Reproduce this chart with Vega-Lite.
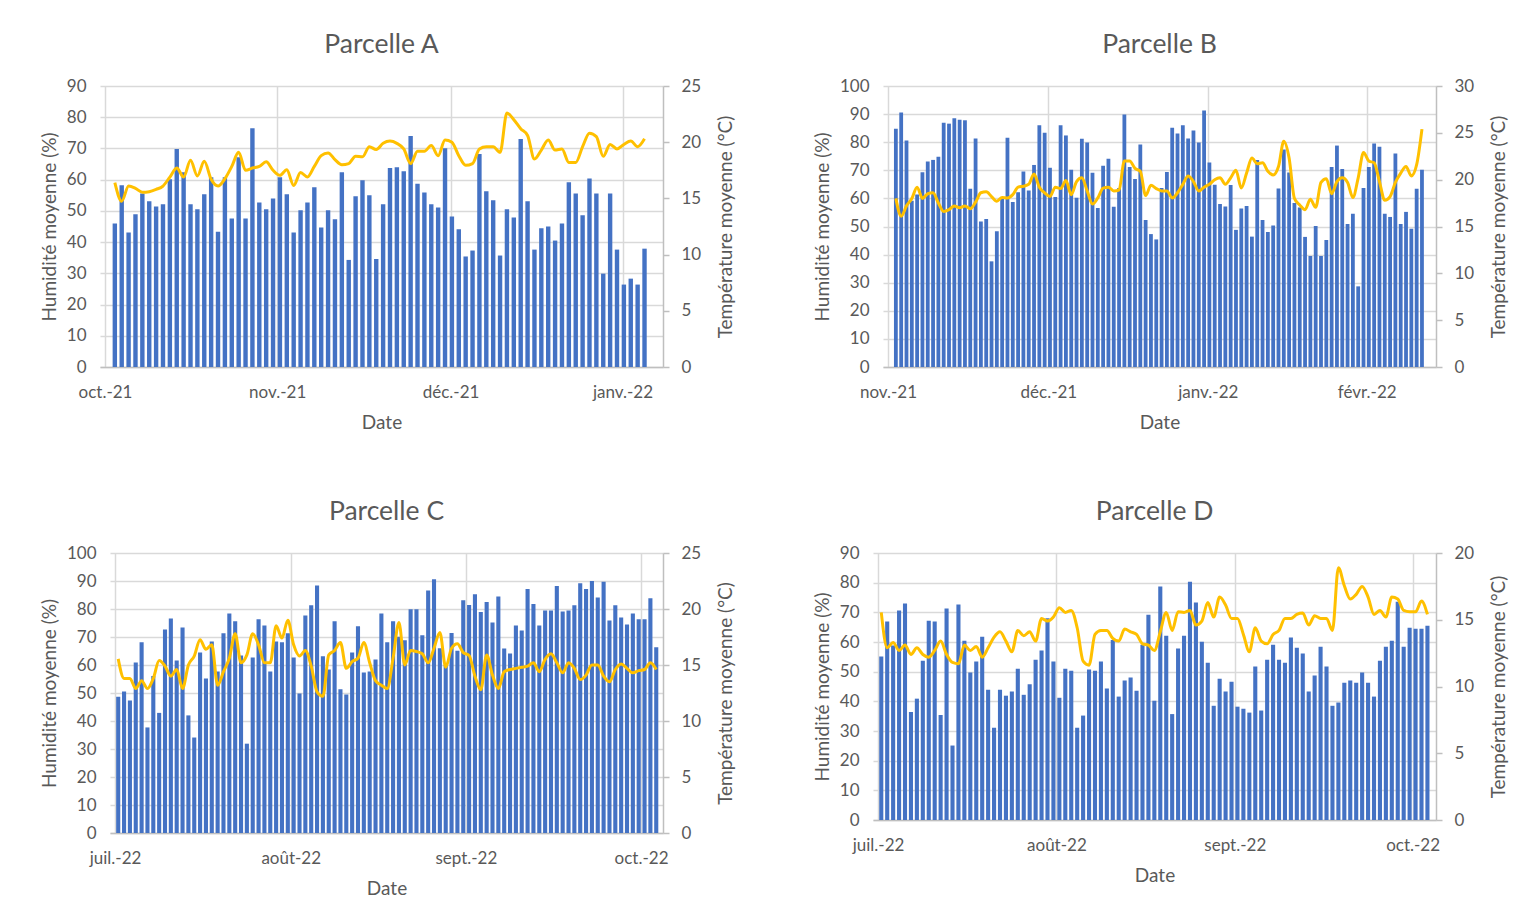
{
"$schema":"https://vega.github.io/schema/vega-lite/v6.json",
"background":"white",
"padding":{"left":39,"top":31,"right":5,"bottom":5},
"datasets":{
"A":[{"j":1,"h":46.0,"t":16.4},{"j":2,"h":58.2,"t":14.75},{"j":3,"h":43.1,"t":16.1},{"j":4,"h":48.9,"t":15.9},{"j":5,"h":55.6,"t":15.55},{"j":6,"h":53.1,"t":15.6},{"j":7,"h":51.4,"t":15.8},{"j":8,"h":52.1,"t":16.1},{"j":9,"h":60.1,"t":16.9},{"j":10,"h":69.8,"t":17.7},{"j":11,"h":62.4,"t":16.9},{"j":12,"h":52.1,"t":18.4},{"j":13,"h":50.5,"t":17.0},{"j":14,"h":55.3,"t":18.3},{"j":15,"h":60.8,"t":16.7},{"j":16,"h":43.3,"t":16.1},{"j":17,"h":60.8,"t":16.75},{"j":18,"h":47.6,"t":17.85},{"j":19,"h":67.2,"t":19.1},{"j":20,"h":47.6,"t":17.5},{"j":21,"h":76.5,"t":17.7},{"j":22,"h":52.7,"t":17.85},{"j":23,"h":50.5,"t":18.25},{"j":24,"h":54.0,"t":17.5},{"j":25,"h":60.8,"t":17.05},{"j":26,"h":55.3,"t":17.55},{"j":27,"h":43.1,"t":16.15},{"j":28,"h":50.2,"t":17.3},{"j":29,"h":52.7,"t":16.9},{"j":30,"h":57.6,"t":17.85},{"j":31,"h":44.7,"t":18.8},{"j":32,"h":50.2,"t":19.05},{"j":33,"h":47.3,"t":18.45},{"j":34,"h":62.4,"t":18.0},{"j":35,"h":34.3,"t":18.1},{"j":36,"h":54.7,"t":18.75},{"j":37,"h":59.8,"t":18.7},{"j":38,"h":55.0,"t":19.6},{"j":39,"h":34.6,"t":19.35},{"j":40,"h":52.1,"t":19.9},{"j":41,"h":63.7,"t":20.1},{"j":42,"h":64.0,"t":19.9},{"j":43,"h":62.7,"t":19.4},{"j":44,"h":74.0,"t":18.1},{"j":45,"h":58.7,"t":19.2},{"j":46,"h":55.9,"t":19.2},{"j":47,"h":52.1,"t":19.7},{"j":48,"h":51.1,"t":18.8},{"j":49,"h":70.1,"t":20.2},{"j":50,"h":48.2,"t":20.0},{"j":51,"h":44.1,"t":18.8},{"j":52,"h":35.4,"t":17.95},{"j":53,"h":37.3,"t":18.1},{"j":54,"h":68.2,"t":19.4},{"j":55,"h":56.3,"t":19.6},{"j":56,"h":53.4,"t":19.6},{"j":57,"h":35.7,"t":19.1},{"j":58,"h":50.5,"t":22.6},{"j":59,"h":47.9,"t":22.0},{"j":60,"h":73.0,"t":21.2},{"j":61,"h":53.1,"t":20.6},{"j":62,"h":37.6,"t":18.5},{"j":63,"h":44.4,"t":19.3},{"j":64,"h":45.0,"t":20.2},{"j":65,"h":40.5,"t":19.3},{"j":66,"h":46.0,"t":19.4},{"j":67,"h":59.2,"t":18.2},{"j":68,"h":55.6,"t":18.2},{"j":69,"h":48.6,"t":19.6},{"j":70,"h":60.4,"t":20.8},{"j":71,"h":55.6,"t":20.5},{"j":72,"h":29.9,"t":18.75},{"j":73,"h":55.6,"t":19.8},{"j":74,"h":37.6,"t":19.4},{"j":75,"h":26.4,"t":19.8},{"j":76,"h":28.3,"t":20.1},{"j":77,"h":26.4,"t":19.6},{"j":78,"h":37.9,"t":20.3}],
"B":[{"j":1,"h":84.8,"t":18.0},{"j":2,"h":90.6,"t":16.1},{"j":3,"h":80.6,"t":17.2},{"j":4,"h":59.2,"t":18.0},{"j":5,"h":61.4,"t":19.2},{"j":6,"h":69.3,"t":18.0},{"j":7,"h":73.1,"t":18.5},{"j":8,"h":73.7,"t":18.6},{"j":9,"h":74.8,"t":17.5},{"j":10,"h":86.9,"t":16.6},{"j":11,"h":86.6,"t":16.8},{"j":12,"h":88.5,"t":17.2},{"j":13,"h":88.0,"t":17.0},{"j":14,"h":87.8,"t":17.2},{"j":15,"h":63.4,"t":16.9},{"j":16,"h":81.3,"t":17.6},{"j":17,"h":51.8,"t":18.6},{"j":18,"h":52.7,"t":18.7},{"j":19,"h":37.6,"t":18.2},{"j":20,"h":48.3,"t":17.7},{"j":21,"h":59.9,"t":18.1},{"j":22,"h":81.6,"t":18.05},{"j":23,"h":58.7,"t":18.4},{"j":24,"h":62.2,"t":19.2},{"j":25,"h":69.6,"t":19.3},{"j":26,"h":62.8,"t":19.5},{"j":27,"h":71.9,"t":20.6},{"j":28,"h":86.0,"t":19.2},{"j":29,"h":83.4,"t":18.6},{"j":30,"h":70.9,"t":18.2},{"j":31,"h":60.5,"t":19.2},{"j":32,"h":86.0,"t":19.05},{"j":33,"h":82.4,"t":19.9},{"j":34,"h":70.2,"t":18.4},{"j":35,"h":60.2,"t":19.8},{"j":36,"h":81.2,"t":20.2},{"j":37,"h":79.9,"t":18.8},{"j":38,"h":69.1,"t":17.4},{"j":39,"h":56.6,"t":18.05},{"j":40,"h":71.6,"t":19.1},{"j":41,"h":74.1,"t":19.2},{"j":42,"h":57.0,"t":18.8},{"j":43,"h":63.7,"t":18.9},{"j":44,"h":89.9,"t":22.0},{"j":45,"h":71.2,"t":22.0},{"j":46,"h":66.9,"t":21.2},{"j":47,"h":79.2,"t":20.9},{"j":48,"h":52.3,"t":18.3},{"j":49,"h":47.3,"t":19.4},{"j":50,"h":45.4,"t":19.05},{"j":51,"h":63.7,"t":18.8},{"j":52,"h":69.4,"t":18.8},{"j":53,"h":85.1,"t":18.05},{"j":54,"h":83.1,"t":18.6},{"j":55,"h":86.0,"t":19.5},{"j":56,"h":81.3,"t":20.4},{"j":57,"h":84.2,"t":19.8},{"j":58,"h":79.9,"t":18.8},{"j":59,"h":91.3,"t":19.2},{"j":60,"h":72.8,"t":19.5},{"j":61,"h":64.9,"t":20.0},{"j":62,"h":58.0,"t":20.2},{"j":63,"h":57.1,"t":19.5},{"j":64,"h":64.8,"t":20.2},{"j":65,"h":48.8,"t":21.0},{"j":66,"h":56.4,"t":19.1},{"j":67,"h":57.3,"t":20.7},{"j":68,"h":46.4,"t":22.3},{"j":69,"h":73.7,"t":21.7},{"j":70,"h":52.3,"t":21.8},{"j":71,"h":48.0,"t":20.9},{"j":72,"h":50.4,"t":20.5},{"j":73,"h":63.5,"t":21.4},{"j":74,"h":77.4,"t":24.1},{"j":75,"h":69.2,"t":22.3},{"j":76,"h":58.4,"t":18.0},{"j":77,"h":56.8,"t":17.3},{"j":78,"h":46.3,"t":16.8},{"j":79,"h":39.5,"t":17.9},{"j":80,"h":50.2,"t":17.05},{"j":81,"h":39.5,"t":19.7},{"j":82,"h":45.2,"t":20.1},{"j":83,"h":71.2,"t":18.5},{"j":84,"h":78.8,"t":19.8},{"j":85,"h":70.5,"t":20.2},{"j":86,"h":50.9,"t":19.7},{"j":87,"h":54.5,"t":18.1},{"j":88,"h":28.7,"t":20.2},{"j":89,"h":63.7,"t":22.9},{"j":90,"h":71.2,"t":22.0},{"j":91,"h":79.5,"t":21.8},{"j":92,"h":78.4,"t":19.8},{"j":93,"h":54.5,"t":17.8},{"j":94,"h":53.4,"t":18.2},{"j":95,"h":76.0,"t":19.7},{"j":96,"h":50.9,"t":20.7},{"j":97,"h":55.2,"t":21.4},{"j":98,"h":49.2,"t":20.4},{"j":99,"h":63.4,"t":21.6},{"j":100,"h":70.2,"t":25.4}],
"C":[{"j":1,"h":48.7,"t":15.55},{"j":2,"h":50.5,"t":13.8},{"j":3,"h":47.3,"t":13.8},{"j":4,"h":60.9,"t":12.9},{"j":5,"h":68.1,"t":13.6},{"j":6,"h":37.7,"t":12.9},{"j":7,"h":56.1,"t":13.8},{"j":8,"h":42.9,"t":15.4},{"j":9,"h":72.7,"t":14.9},{"j":10,"h":76.6,"t":14.0},{"j":11,"h":61.6,"t":14.6},{"j":12,"h":73.4,"t":12.9},{"j":13,"h":42.0,"t":15.0},{"j":14,"h":34.1,"t":15.8},{"j":15,"h":64.5,"t":17.25},{"j":16,"h":55.2,"t":16.4},{"j":17,"h":68.4,"t":16.8},{"j":18,"h":57.7,"t":13.2},{"j":19,"h":71.3,"t":14.4},{"j":20,"h":78.4,"t":15.6},{"j":21,"h":75.6,"t":17.8},{"j":22,"h":63.4,"t":15.2},{"j":23,"h":31.9,"t":15.9},{"j":24,"h":62.7,"t":17.8},{"j":25,"h":76.3,"t":16.8},{"j":26,"h":74.1,"t":15.2},{"j":27,"h":57.7,"t":15.2},{"j":28,"h":68.4,"t":18.5},{"j":29,"h":68.1,"t":17.4},{"j":30,"h":71.3,"t":19.0},{"j":31,"h":62.7,"t":16.8},{"j":32,"h":49.8,"t":15.8},{"j":33,"h":77.7,"t":16.3},{"j":34,"h":81.3,"t":14.9},{"j":35,"h":88.4,"t":12.6},{"j":36,"h":63.1,"t":12.2},{"j":37,"h":58.4,"t":15.9},{"j":38,"h":75.6,"t":16.3},{"j":39,"h":51.3,"t":17.0},{"j":40,"h":49.5,"t":14.7},{"j":41,"h":64.5,"t":15.3},{"j":42,"h":73.8,"t":15.6},{"j":43,"h":57.3,"t":17.0},{"j":44,"h":57.7,"t":15.2},{"j":45,"h":62.0,"t":13.6},{"j":46,"h":78.4,"t":13.2},{"j":47,"h":68.1,"t":12.9},{"j":48,"h":75.6,"t":15.6},{"j":49,"h":70.1,"t":18.8},{"j":50,"h":68.8,"t":15.0},{"j":51,"h":79.9,"t":16.3},{"j":52,"h":79.9,"t":16.2},{"j":53,"h":70.6,"t":16.0},{"j":54,"h":86.6,"t":15.2},{"j":55,"h":90.6,"t":16.5},{"j":56,"h":66.0,"t":17.9},{"j":57,"h":60.0,"t":14.8},{"j":58,"h":71.4,"t":16.5},{"j":59,"h":65.1,"t":16.9},{"j":60,"h":83.1,"t":16.1},{"j":61,"h":81.4,"t":15.85},{"j":62,"h":85.3,"t":14.0},{"j":63,"h":78.9,"t":12.8},{"j":64,"h":82.5,"t":15.9},{"j":65,"h":75.2,"t":14.1},{"j":66,"h":84.5,"t":12.9},{"j":67,"h":65.9,"t":14.4},{"j":68,"h":64.1,"t":14.6},{"j":69,"h":74.1,"t":14.7},{"j":70,"h":72.3,"t":14.8},{"j":71,"h":87.1,"t":14.9},{"j":72,"h":81.8,"t":15.2},{"j":73,"h":74.1,"t":14.4},{"j":74,"h":79.5,"t":15.5},{"j":75,"h":79.5,"t":16.0},{"j":76,"h":88.2,"t":15.2},{"j":77,"h":79.1,"t":14.3},{"j":78,"h":79.5,"t":15.2},{"j":79,"h":81.3,"t":14.7},{"j":80,"h":89.2,"t":13.7},{"j":81,"h":87.1,"t":14.1},{"j":82,"h":90.0,"t":15.0},{"j":83,"h":84.1,"t":15.0},{"j":84,"h":89.7,"t":14.0},{"j":85,"h":75.9,"t":13.5},{"j":86,"h":81.3,"t":14.6},{"j":87,"h":77.0,"t":15.1},{"j":88,"h":74.5,"t":14.7},{"j":89,"h":78.4,"t":14.3},{"j":90,"h":76.3,"t":14.5},{"j":91,"h":76.3,"t":14.6},{"j":92,"h":83.8,"t":15.2},{"j":93,"h":66.3,"t":14.6}],
"D":[{"j":1,"h":55.1,"t":15.55},{"j":2,"h":66.9,"t":12.9},{"j":3,"h":58.8,"t":13.3},{"j":4,"h":70.6,"t":12.7},{"j":5,"h":73.0,"t":13.1},{"j":6,"h":36.4,"t":12.4},{"j":7,"h":40.9,"t":12.9},{"j":8,"h":53.7,"t":12.4},{"j":9,"h":67.2,"t":12.2},{"j":10,"h":66.9,"t":12.7},{"j":11,"h":35.4,"t":13.4},{"j":12,"h":71.3,"t":12.4},{"j":13,"h":25.1,"t":11.8},{"j":14,"h":72.6,"t":11.7},{"j":15,"h":60.4,"t":13.1},{"j":16,"h":49.7,"t":12.7},{"j":17,"h":53.4,"t":13.0},{"j":18,"h":61.8,"t":12.2},{"j":19,"h":43.9,"t":12.9},{"j":20,"h":31.1,"t":13.7},{"j":21,"h":43.9,"t":14.1},{"j":22,"h":41.9,"t":13.4},{"j":23,"h":43.3,"t":12.6},{"j":24,"h":51.0,"t":14.2},{"j":25,"h":42.2,"t":13.8},{"j":26,"h":45.8,"t":14.1},{"j":27,"h":54.0,"t":13.4},{"j":28,"h":57.1,"t":15.1},{"j":29,"h":68.0,"t":14.9},{"j":30,"h":53.4,"t":15.2},{"j":31,"h":41.2,"t":15.9},{"j":32,"h":51.0,"t":15.55},{"j":33,"h":50.3,"t":15.7},{"j":34,"h":31.1,"t":14.4},{"j":35,"h":35.2,"t":11.9},{"j":36,"h":50.7,"t":11.6},{"j":37,"h":50.3,"t":13.9},{"j":38,"h":53.4,"t":14.2},{"j":39,"h":44.3,"t":14.2},{"j":40,"h":60.7,"t":13.6},{"j":41,"h":41.6,"t":13.4},{"j":42,"h":47.0,"t":14.3},{"j":43,"h":48.0,"t":14.1},{"j":44,"h":43.6,"t":13.9},{"j":45,"h":59.1,"t":13.2},{"j":46,"h":69.2,"t":13.1},{"j":47,"h":40.2,"t":12.7},{"j":48,"h":78.7,"t":14.1},{"j":49,"h":62.1,"t":15.55},{"j":50,"h":35.7,"t":14.2},{"j":51,"h":57.8,"t":15.6},{"j":52,"h":62.1,"t":15.55},{"j":53,"h":80.3,"t":15.7},{"j":54,"h":73.3,"t":14.6},{"j":55,"h":60.1,"t":14.9},{"j":56,"h":53.0,"t":16.3},{"j":57,"h":38.5,"t":15.2},{"j":58,"h":47.6,"t":16.7},{"j":59,"h":43.3,"t":16.1},{"j":60,"h":46.6,"t":15.1},{"j":61,"h":38.2,"t":15.1},{"j":62,"h":37.5,"t":13.9},{"j":63,"h":36.2,"t":12.6},{"j":64,"h":51.7,"t":14.4},{"j":65,"h":36.9,"t":13.4},{"j":66,"h":54.0,"t":13.2},{"j":67,"h":59.1,"t":13.9},{"j":68,"h":54.0,"t":14.2},{"j":69,"h":53.0,"t":15.1},{"j":70,"h":61.5,"t":15.1},{"j":71,"h":58.1,"t":15.4},{"j":72,"h":56.1,"t":15.5},{"j":73,"h":43.3,"t":14.6},{"j":74,"h":48.7,"t":15.3},{"j":75,"h":58.4,"t":15.1},{"j":76,"h":51.7,"t":15.1},{"j":77,"h":38.5,"t":14.2},{"j":78,"h":39.6,"t":18.9},{"j":79,"h":46.3,"t":17.55},{"j":80,"h":47.0,"t":16.55},{"j":81,"h":46.3,"t":16.9},{"j":82,"h":49.7,"t":17.5},{"j":83,"h":46.3,"t":16.7},{"j":84,"h":41.6,"t":15.4},{"j":85,"h":53.7,"t":15.7},{"j":86,"h":58.4,"t":15.2},{"j":87,"h":60.4,"t":16.7},{"j":88,"h":73.6,"t":16.55},{"j":89,"h":58.4,"t":15.7},{"j":90,"h":64.8,"t":15.6},{"j":91,"h":64.5,"t":15.6},{"j":92,"h":64.5,"t":16.4},{"j":93,"h":65.5,"t":15.4}]
},
"spacing":66,
"vconcat":[
{"spacing":77,"hconcat":[
{"spacing":0,"hconcat":[
{"width":1,"height":1,"data":{"values":[]},"mark":{"type":"point","opacity":0}},
{"width":563,"height":281,"title":"Parcelle A","data":{"name":"A"},
 "encoding":{"x":{"field":"j","type":"quantitative","scale":{"domain":[-0.43,79.96],"nice":false,"zero":false},"axis":{"title":"Date","values":[-0.43,24.6,49.8,74.8],"labelExpr":"datum.value < 10 ? 'oct.-21' : datum.value < 35 ? 'nov.-21' : datum.value < 60 ? 'déc.-21' : 'janv.-22'","grid":true,"ticks":false,"labelFlush":false,"labelOverlap":false,"labelPadding":17,"titlePadding":13}}},
 "layer":[
  {"mark":{"type":"bar","orient":"vertical","size":4.4,"color":"#4472C4"},"encoding":{"y":{"field":"h","type":"quantitative","scale":{"domain":[0,90],"nice":false},"axis":{"title":"Humidité moyenne (%)","values":[0,10,20,30,40,50,60,70,80,90],"domain":false,"ticks":false,"grid":true,"labelPadding":14,"titlePadding":7}}}},
  {"mark":{"type":"line","color":"#FFC000","strokeWidth":3,"interpolate":"monotone"},"encoding":{"y":{"field":"t","type":"quantitative","scale":{"domain":[0,25],"nice":false},"axis":{"orient":"right","title":"Température moyenne (°C)","titleAngle":270,"titleBaseline":"top","values":[0,5,10,15,20,25],"grid":false,"domain":true,"ticks":true,"tickSize":6,"labelPadding":12,"titlePadding":16}}}}
 ],
 "resolve":{"scale":{"y":"independent"}}}
]},
{"width":553,"height":281,"title":"Parcelle B","data":{"name":"B"},
 "encoding":{"x":{"field":"j","type":"quantitative","scale":{"domain":[-0.48,101.7],"nice":false,"zero":false},"axis":{"title":"Date","values":[-0.48,29.7,59.7,89.6],"labelExpr":"datum.value < 10 ? 'nov.-21' : datum.value < 40 ? 'déc.-21' : datum.value < 70 ? 'janv.-22' : 'févr.-22'","grid":true,"ticks":false,"labelFlush":false,"labelOverlap":false,"labelPadding":17,"titlePadding":13}}},
 "layer":[
  {"mark":{"type":"bar","orient":"vertical","size":3.8,"color":"#4472C4"},"encoding":{"y":{"field":"h","type":"quantitative","scale":{"domain":[0,100],"nice":false},"axis":{"title":"Humidité moyenne (%)","values":[0,10,20,30,40,50,60,70,80,90,100],"domain":false,"ticks":false,"grid":true,"labelPadding":14,"titlePadding":7}}}},
  {"mark":{"type":"line","color":"#FFC000","strokeWidth":3,"interpolate":"monotone"},"encoding":{"y":{"field":"t","type":"quantitative","scale":{"domain":[0,30],"nice":false},"axis":{"orient":"right","title":"Température moyenne (°C)","titleAngle":270,"titleBaseline":"top","values":[0,5,10,15,20,25,30],"grid":false,"domain":true,"ticks":true,"tickSize":6,"labelPadding":12,"titlePadding":16}}}}
 ],
 "resolve":{"scale":{"y":"independent"}}}
]},
{"spacing":77,"hconcat":[
{"spacing":0,"hconcat":[
{"width":1,"height":1,"data":{"values":[]},"mark":{"type":"point","opacity":0}},
{"width":553,"height":280,"title":"Parcelle C","data":{"name":"C"},
 "encoding":{"x":{"field":"j","type":"quantitative","scale":{"domain":[0.45,93.3],"nice":false,"zero":false},"axis":{"title":"Date","values":[0.45,30.5,60.45,90.4],"labelExpr":"datum.value < 10 ? 'juil.-22' : datum.value < 40 ? 'août-22' : datum.value < 70 ? 'sept.-22' : 'oct.-22'","grid":true,"ticks":false,"labelFlush":false,"labelOverlap":false,"labelPadding":17,"titlePadding":13}}},
 "layer":[
  {"mark":{"type":"bar","orient":"vertical","size":4.1,"color":"#4472C4"},"encoding":{"y":{"field":"h","type":"quantitative","scale":{"domain":[0,100],"nice":false},"axis":{"title":"Humidité moyenne (%)","values":[0,10,20,30,40,50,60,70,80,90,100],"domain":false,"ticks":false,"grid":true,"labelPadding":14,"titlePadding":7}}}},
  {"mark":{"type":"line","color":"#FFC000","strokeWidth":3,"interpolate":"monotone"},"encoding":{"y":{"field":"t","type":"quantitative","scale":{"domain":[0,25],"nice":false},"axis":{"orient":"right","title":"Température moyenne (°C)","titleAngle":270,"titleBaseline":"top","values":[0,5,10,15,20,25],"grid":false,"domain":true,"ticks":true,"tickSize":6,"labelPadding":12,"titlePadding":16}}}}
 ],
 "resolve":{"scale":{"y":"independent"}}}
]},
{"width":563,"height":267,"title":"Parcelle D","data":{"name":"D"},
 "encoding":{"x":{"field":"j","type":"quantitative","scale":{"domain":[0.45,93.6],"nice":false,"zero":false},"axis":{"title":"Date","values":[0.45,30.5,60.55,90.5],"labelExpr":"datum.value < 10 ? 'juil.-22' : datum.value < 40 ? 'août-22' : datum.value < 70 ? 'sept.-22' : 'oct.-22'","grid":true,"ticks":false,"labelFlush":false,"labelOverlap":false,"labelPadding":17,"titlePadding":13}}},
 "layer":[
  {"mark":{"type":"bar","orient":"vertical","size":4.1,"color":"#4472C4"},"encoding":{"y":{"field":"h","type":"quantitative","scale":{"domain":[0,90],"nice":false},"axis":{"title":"Humidité moyenne (%)","values":[0,10,20,30,40,50,60,70,80,90],"domain":false,"ticks":false,"grid":true,"labelPadding":14,"titlePadding":7}}}},
  {"mark":{"type":"line","color":"#FFC000","strokeWidth":3,"interpolate":"monotone"},"encoding":{"y":{"field":"t","type":"quantitative","scale":{"domain":[0,20],"nice":false},"axis":{"orient":"right","title":"Température moyenne (°C)","titleAngle":270,"titleBaseline":"top","values":[0,5,10,15,20],"grid":false,"domain":true,"ticks":true,"tickSize":6,"labelPadding":12,"titlePadding":16}}}}
 ],
 "resolve":{"scale":{"y":"independent"}}}
]}
],
"config":{
 "view":{"stroke":null},
 "font":"Lato",
 "axis":{"labelFont":"Lato","titleFont":"Lato","labelFontSize":17,"titleFontSize":19,"labelColor":"#595959","titleColor":"#595959","titleFontWeight":"normal","gridColor":"#d9d9d9","gridWidth":1.5,"domainColor":"#bfbfbf","domainWidth":1.5,"tickColor":"#bfbfbf","tickWidth":1.5},
 "title":{"font":"Lato","fontSize":26.5,"fontWeight":"normal","color":"#595959","anchor":"middle","frame":"group","offset":19}
}
}
